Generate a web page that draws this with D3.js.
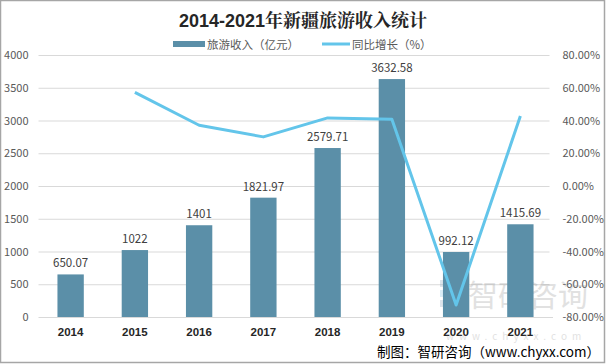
<!DOCTYPE html>
<html><head><meta charset="utf-8">
<script src="https://cdn.jsdelivr.net/npm/d3@7"></script>
<style>body{margin:0;background:#fff}svg{display:block}</style>
</head><body><svg id="c" width="606" height="364"></svg>
<script>
const years = ["2014","2015","2016","2017","2018","2019","2020","2021"];
const revenue = [650.07,1022,1401,1821.97,2579.71,3632.58,992.12,1415.69];
const revenueLabels = ["650.07","1022","1401","1821.97","2579.71","3632.58","992.12","1415.69"];
const growth = [null,57.2,37.1,30.0,41.6,40.8,-72.7,42.7];
const leftTicks = [0,500,1000,1500,2000,2500,3000,3500,4000];
const rightTicks = [-80,-60,-40,-20,0,20,40,60,80];

const svg = d3.select("#c");
const font = "'Microsoft YaHei','Noto Sans CJK SC',sans-serif";
const W=606,H=364;
svg.append("rect").attr("x",0.5).attr("y",0.5).attr("width",W-2).attr("height",H-2)
  .attr("fill","#fff").attr("stroke","#a6a6a6").attr("stroke-width",1.5);

const x0=38.5, x1=552.5, yTop=55, yBot=317;
const x = d3.scaleBand().domain(years).range([x0,x1]).paddingInner(0.59).paddingOuter(0.295);
const yL = d3.scaleLinear().domain([0,4000]).range([yBot,yTop]);
const yR = d3.scaleLinear().domain([-80,80]).range([yBot,yTop]);

// grid
const gGrid = svg.append("g").attr("transform",`translate(${x0},0)`)
  .call(d3.axisLeft(yL).tickValues(leftTicks).tickSize(-(x1-x0-3)).tickFormat(""));
gGrid.select(".domain").remove();
gGrid.selectAll("line").attr("stroke","#d9d9d9");

// left axis labels
const gL = svg.append("g").attr("transform",`translate(${x0},0)`)
  .call(d3.axisLeft(yL).tickValues(leftTicks).tickSize(0).tickPadding(10).tickFormat(d3.format("d")));
gL.select(".domain").remove();
gL.selectAll("text").attr("font-family",font).attr("font-size",11).attr("fill","#595959");

// right axis labels
const gR = svg.append("g").attr("transform",`translate(${x1},0)`)
  .call(d3.axisRight(yR).tickValues(rightTicks).tickSize(0).tickPadding(10).tickFormat(d=>d.toFixed(2)+"%"));
gR.select(".domain").remove();
gR.selectAll("text").attr("font-family",font).attr("font-size",11).attr("fill","#595959");

// bottom axis
const gB = svg.append("g").attr("transform",`translate(0,${yBot})`)
  .call(d3.axisBottom(x).tickSize(0).tickPadding(11));
gB.select(".domain").attr("stroke","#d9d9d9");
gB.selectAll("text").attr("font-family","'Liberation Sans',Arial,sans-serif").attr("font-size",11.5).attr("font-weight","bold").attr("fill","#262626");

// watermark
const wm = svg.append("g").attr("opacity",0.25);
wm.append("rect").attr("x",440).attr("y",280).attr("width",22).attr("height",7).attr("fill","#7a9bb5");
wm.append("rect").attr("x",440).attr("y",290).attr("width",22).attr("height",7).attr("fill","#6fb9e0");
wm.append("rect").attr("x",440).attr("y",300).attr("width",22).attr("height",7).attr("fill","#7a9bb5");
wm.append("text").attr("x",468).attr("y",306).attr("font-family",font).attr("font-size",30).attr("fill","#8a8a8a").text("智研咨询");
wm.append("text").attr("x",446).attr("y",340).attr("font-family",font).attr("font-size",10).attr("fill","#8a8a8a").attr("letter-spacing",5).text("www.chyxx.com");

// bars
svg.append("g").selectAll("rect").data(years).join("rect")
  .attr("x",d=>x(d)).attr("width",x.bandwidth())
  .attr("y",(d,i)=>yL(revenue[i])).attr("height",(d,i)=>yBot-yL(revenue[i]))
  .attr("fill","#5b8fa8");

// bar labels
svg.append("g").selectAll("text").data(years).join("text")
  .attr("x",d=>x(d)+x.bandwidth()/2).attr("y",(d,i)=>yL(revenue[i])-7)
  .attr("text-anchor","middle").attr("font-family",font).attr("font-size",11.5).attr("fill","#404040")
  .text((d,i)=>revenueLabels[i]);

// line
const pts = years.map((d,i)=>({d,v:growth[i]})).filter(p=>p.v!==null);
svg.append("path").datum(pts)
  .attr("d",d3.line().x(p=>x(p.d)+x.bandwidth()/2).y(p=>yR(p.v)))
  .attr("fill","none").attr("stroke","#63c5ea").attr("stroke-width",3).attr("stroke-linejoin","round");

// title
const t = svg.append("text").attr("x",303).attr("y",27).attr("text-anchor","middle")
  .attr("font-weight","bold").attr("font-size",18).attr("fill","#262626");
t.append("tspan").attr("font-family","'Liberation Sans',Arial,sans-serif").text("2014-2021");
t.append("tspan").attr("font-family","'Noto Serif CJK SC','Noto Sans CJK SC',serif").text("年新疆旅游收入统计");

// legend
svg.append("rect").attr("x",173).attr("y",41).attr("width",32).attr("height",6).attr("fill","#5b8fa8");
svg.append("text").attr("x",207).attr("y",48.5).attr("font-family",font).attr("font-size",11.5).attr("fill","#595959").text("旅游收入（亿元）");
svg.append("line").attr("x1",322).attr("x2",350).attr("y1",44).attr("y2",44).attr("stroke","#63c5ea").attr("stroke-width",3);
svg.append("text").attr("x",352).attr("y",48.5).attr("font-family",font).attr("font-size",11.5).attr("fill","#595959").text("同比增长（%）");

// footer
svg.append("text").attr("x",600).attr("y",357).attr("text-anchor","end")
  .attr("font-family",font).attr("font-size",13.5).attr("fill","#000").text("制图：智研咨询（www.chyxx.com）");
</script></body></html>
